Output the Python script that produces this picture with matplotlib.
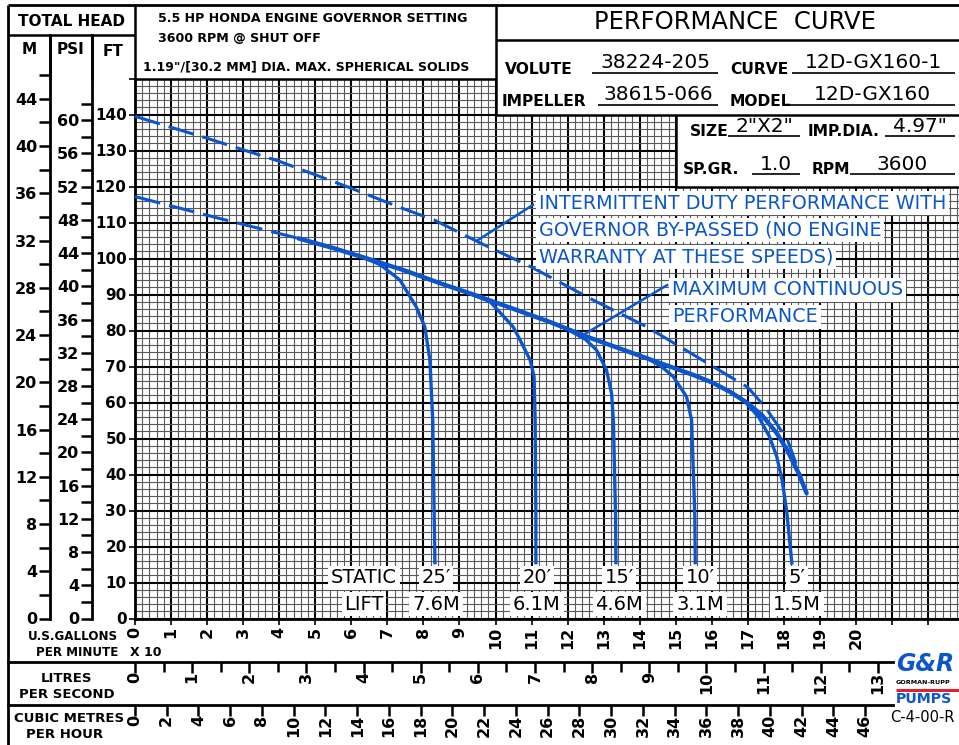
import numpy as np
import matplotlib.pyplot as plt
from matplotlib.patches import Rectangle
from matplotlib.lines import Line2D
from matplotlib.ticker import MultipleLocator, FixedLocator, FixedFormatter

# ---- data (flow in US GPM x 10, head in feet) ----
main_x = [4.53, 5.5, 6.5, 7.5, 8.5, 9.5, 10.5, 11.5, 12.5, 13.5, 14.5, 15.5,
          16.0, 16.5, 17.0, 17.4, 17.8, 18.1, 18.4, 18.63]
main_y = [105.6, 102.9, 99.8, 96.6, 93.0, 89.6, 86.0, 82.4, 78.4, 74.8, 71.2, 67.6,
          65.6, 63.0, 59.8, 56.4, 51.5, 46.6, 40.5, 34.8]

shutoff_x = [0, 2.2, 4.53]
shutoff_y = [117.2, 111.5, 105.6]

bypass_x = [0, 2, 4, 6, 7.4, 8.3, 9.6, 11, 12.7, 14.2, 15.6, 16.5, 17.0, 17.5, 18.1, 18.5]
bypass_y = [139.5, 133.4, 127, 119.5, 114, 110.7, 104.2, 97.6, 88.5, 81.0, 72.6, 67.2,
            64.2, 58.5, 49.6, 38.5]

lift25_x = [6.2, 6.8, 7.35, 7.8, 8.04, 8.18, 8.26, 8.3, 8.32]
lift25_y = [100.8, 98.3, 94.0, 86.6, 81.0, 71.8, 55.0, 28.0, 15.5]
lift20_x = [9.2, 9.85, 10.49, 10.68, 10.96, 11.07, 11.1, 11.12, 11.12]
lift20_y = [90.6, 88.0, 81.0, 77.4, 71.8, 67.2, 55.1, 28.3, 15.5]
lift15_x = [12.0, 12.5, 12.8, 13.08, 13.22, 13.27, 13.33, 13.34]
lift15_y = [80.3, 77.5, 74.6, 69.0, 62.5, 55.1, 28.3, 15.5]
lift10_x = [14.2, 14.6, 14.93, 15.3, 15.44, 15.53, 15.54]
lift10_y = [72.3, 70.0, 67.2, 61.6, 55.1, 28.3, 15.5]
lift5_x = [16.5, 16.9, 17.3, 17.6, 17.8, 17.95, 18.08, 18.22]
lift5_y = [63.0, 60.4, 56.0, 50.5, 45.0, 38.5, 29.6, 15.4]

lift_ft = ["25\u2032", "20\u2032", "15\u2032", "10\u2032", "5\u2032"]
lift_m = ["7.6M", "6.1M", "4.6M", "3.1M", "1.5M"]

gpm_labels = [str(i) for i in range(0, 21)]
lps_labels = [str(i) for i in range(0, 14)]
cmh_labels = [str(i) for i in range(0, 47, 2)]

info = [("VOLUTE", "38224-205"), ("CURVE", "12D-GX160-1"),
        ("IMPELLER", "38615-066"), ("MODEL", "12D-GX160"),
        ("SIZE", '2"X2"'), ("IMP.DIA.", '4.97"'),
        ("SP.GR.", "1.0"), ("RPM", "3600")]

# ---- layout (pixels of the 959x745 picture) ----
W, H = 959, 745
BLUE = '#0b56cc'
PXX = 36.05          # px per 10 gpm
PXY = 3.6            # px per foot
X0, Y0 = 135, 618.5  # origin of the grid
XMAX = (W - X0) / PXX

def fx(p):
    return p / W

def fy(p):
    return 1 - p / H

fig = plt.figure(figsize=(W / 100, H / 100), dpi=100)

def line(x1, y1, x2, y2, lw=1.8, color='black', z=10):
    fig.add_artist(Line2D([fx(x1), fx(x2)], [fy(y1), fy(y2)], transform=fig.transFigure,
                          color=color, lw=lw, zorder=z, solid_capstyle='butt'))

def txt(x, y, s, size=10, weight='bold', ha='left', color='black', **kw):
    fig.text(fx(x), fy(y), s, fontsize=size, fontweight=weight, ha=ha, va='center',
             color=color, **kw)

# ---- main grid axes ----
ax = fig.add_axes([fx(X0), fy(Y0), (W - X0) / W, 150 * PXY / H])
ax.set_xlim(0, XMAX)
ax.set_ylim(0, 150)
ax.set_axisbelow(True)
ax.xaxis.set_major_locator(FixedLocator(range(0, 23)))
ax.xaxis.set_major_formatter(FixedFormatter(gpm_labels + ['', '']))
ax.xaxis.set_minor_locator(MultipleLocator(0.2))
ax.yaxis.set_major_locator(FixedLocator(range(0, 151, 10)))
ax.yaxis.set_major_formatter(FixedFormatter([str(v) for v in range(0, 141, 10)] + ['']))
ax.yaxis.set_minor_locator(MultipleLocator(2))
ax.grid(which='minor', color='#5a5a5a', lw=0.8)
ax.grid(which='major', color='black', lw=1.5)
ax.tick_params(which='minor', length=0)
ax.tick_params(axis='x', which='major', length=4, width=1.2, labelrotation=90,
               labelsize=11.5, pad=2)
ax.tick_params(axis='y', which='major', length=4, width=1.2, labelsize=11, pad=2)
for lab in ax.get_xticklabels() + ax.get_yticklabels():
    lab.set_fontweight('bold')
for s in ['top', 'right']:
    ax.spines[s].set_visible(False)
for s in ['left', 'bottom']:
    ax.spines[s].set_linewidth(2)

# white table area over the grid
ax.add_patch(Rectangle((10, 140), XMAX, 12, facecolor='white', edgecolor='none', zorder=2,
                       clip_on=False))
ax.add_patch(Rectangle((15, 120), XMAX, 22, facecolor='white', edgecolor='none', zorder=2,
                       clip_on=False))

# curves
dash = dict(color=BLUE, lw=2.2, dashes=(8.5, 3), zorder=3, solid_capstyle='butt')
ax.plot(bypass_x, bypass_y, **dash)
ax.plot(shutoff_x, shutoff_y, **dash)
for cx, cy in [(lift25_x, lift25_y), (lift20_x, lift20_y), (lift15_x, lift15_y),
               (lift10_x, lift10_y), (lift5_x, lift5_y)]:
    ax.plot(cx, cy, color=BLUE, lw=2.4, zorder=3, solid_joinstyle='round')
ax.plot(main_x, main_y, color=BLUE, lw=3.2, zorder=3, solid_joinstyle='round',
        solid_capstyle='round')

# leaders
ax.plot([11.04, 9.51], [114.9, 105.1], color=BLUE, lw=1.8, zorder=3)
ax.plot([14.76, 12.34], [92.6, 78.2], color=BLUE, lw=1.8, zorder=3)

bb = dict(facecolor='white', edgecolor='none', pad=2)
for s, yy in zip(["INTERMITTENT DUTY PERFORMANCE WITH", "GOVERNOR BY-PASSED (NO ENGINE",
                  "WARRANTY AT THESE SPEEDS)"], [115.4, 107.9, 100.4]):
    ax.text(11.2, yy, s, color=BLUE, fontsize=13.8, va='center', ha='left', bbox=bb, zorder=5)
for s, yy in zip(["MAXIMUM CONTINUOUS", "PERFORMANCE"], [91.3, 83.8]):
    ax.text(14.9, yy, s, color=BLUE, fontsize=13.8, va='center', ha='left', bbox=bb, zorder=5)

# static lift labels
ax.text(6.35, 11.3, "STATIC", fontsize=14, ha='center', va='center', bbox=bb, zorder=5)
ax.text(6.35, 4.0, "LIFT", fontsize=14, ha='center', va='center', bbox=bb, zorder=5)
for xx, a, b in zip([8.35, 11.15, 13.43, 15.67, 18.36], lift_ft, lift_m):
    ax.text(xx, 11.3, a, fontsize=14, ha='center', va='center', bbox=bb, zorder=5)
    ax.text(xx, 4.0, b, fontsize=14, ha='center', va='center', bbox=bb, zorder=5)

# ---- metres and psi head scales ----
ytop_ft = (Y0 - 35) / PXY
for xpos, conv, major, minor, top in [(50, 3.2808, 4, 2, 44), (92, 2.3067, 4, 2, 60)]:
    a = fig.add_axes([fx(xpos), fy(Y0), 1e-6, (Y0 - 35) / H])
    a.set_ylim(0, ytop_ft / conv)
    a.set_xticks([])
    for s in ['top', 'right', 'bottom']:
        a.spines[s].set_visible(False)
    a.spines['left'].set_linewidth(2)
    a.yaxis.set_major_locator(FixedLocator(np.arange(0, top + 1, major)))
    a.yaxis.set_minor_locator(FixedLocator(np.arange(minor, top + 3, major)))
    a.tick_params(which='both', length=8, width=1.8, labelsize=11.5, pad=1)
    for lab in a.get_yticklabels():
        lab.set_fontweight('bold')

# ---- litres per second and cubic metres per hour scales ----
for ypos, conv, step, minor, labels in [(662, 1.58503, 1, 0.5, lps_labels),
                                          (705, 0.44029, 2, None, cmh_labels)]:
    scale = PXX * conv
    a = fig.add_axes([fx(8), fy(ypos), (893 - 8) / W, 1e-6])
    a.set_xlim((8 - X0) / scale, (893 - X0) / scale)
    a.set_yticks([])
    for s in ['top', 'right', 'left']:
        a.spines[s].set_visible(False)
    a.spines['bottom'].set_linewidth(2)
    a.xaxis.set_major_locator(FixedLocator(np.arange(0, len(labels)) * step))
    a.xaxis.set_major_formatter(FixedFormatter(labels))
    if minor:
        a.xaxis.set_minor_locator(FixedLocator(np.arange(0.5, len(labels) - 0.4, 1)))
    a.tick_params(which='major', length=8, width=1.8, labelsize=11.5, labelrotation=90, pad=-1)
    a.tick_params(which='minor', length=7, width=1.8)
    for lab in a.get_xticklabels():
        lab.set_fontweight('bold')

# ---- frame and header boxes ----
line(8, 5, W, 5, lw=2)
line(8, 5, 8, H, lw=2)
line(8, 35, 135, 35)
line(50, 35, 50, 80)
line(92, 35, 92, 80)
line(135, 5, 135, 80)
line(135, 78.5, X0 + 10 * PXX, 78.5)
line(X0 + 10 * PXX, 5, X0 + 10 * PXX, Y0 - 140 * PXY)
line(X0 + 10 * PXX, 40, W, 40)
line(X0 + 10 * PXX, Y0 - 140 * PXY, W, Y0 - 140 * PXY)
line(X0 + 15 * PXX, Y0 - 140 * PXY, X0 + 15 * PXX, Y0 - 120 * PXY)
line(X0 + 15 * PXX, Y0 - 120 * PXY, W, Y0 - 120 * PXY)

txt(71, 21, "TOTAL HEAD", size=11, ha='center')
txt(29, 50, "M", size=11, ha='center')
txt(71, 50, "PSI", size=11, ha='center')
txt(113, 52, "FT", size=11, ha='center')
txt(158, 18, "5.5 HP HONDA ENGINE GOVERNOR SETTING", size=9.1)
txt(158, 38, "3600 RPM @ SHUT OFF", size=9.1)
txt(143, 67, '1.19"/[30.2 MM] DIA. MAX. SPHERICAL SOLIDS', size=9)

txt(735, 22, "PERFORMANCE  CURVE", size=17.5, weight='normal', ha='center')
cells = [(505, 69, 592, 718), (730, 69, 792, 955),
         (502, 101, 598, 718), (730, 101, 790, 955),
         (690, 132, 728, 800), (808, 132, 885, 955),
         (683, 170, 752, 800), (812, 170, 850, 955)]
for (lab, val), (lx, ly, u1, u2) in zip(info, cells):
    txt(lx, ly, lab, size=11.2)
    txt((u1 + u2) / 2, ly - 6, val, size=14.5, weight='normal', ha='center')
    line(u1, ly + 4, u2, ly + 4, lw=1.2)

# ---- flow scale captions ----
txt(118, 637, "U.S.GALLONS", size=8.6, ha='right')
txt(118, 653, "PER MINUTE", size=8.6, ha='right')
txt(130, 653, "X 10", size=9)
txt(67, 678, "LITRES", size=9.5, ha='center')
txt(67, 694, "PER SECOND", size=9.5, ha='center')
txt(124, 718, "CUBIC METRES", size=9.5, ha='right')
txt(65, 734, "PER HOUR", size=9.5, ha='center')
txt(890, 718, "C-4-00-R", size=10.5, weight='normal')

# logo
txt(896, 664, "G&R", size=17, color=BLUE, fontstyle='italic')
txt(896, 683, "GORMAN-RUPP", size=4.6)
line(896, 690, W, 690, lw=2.2, color='#e0202a')
txt(896, 699, "PUMPS", size=10.2, color=BLUE)

fig.savefig('out.png', dpi=100)
